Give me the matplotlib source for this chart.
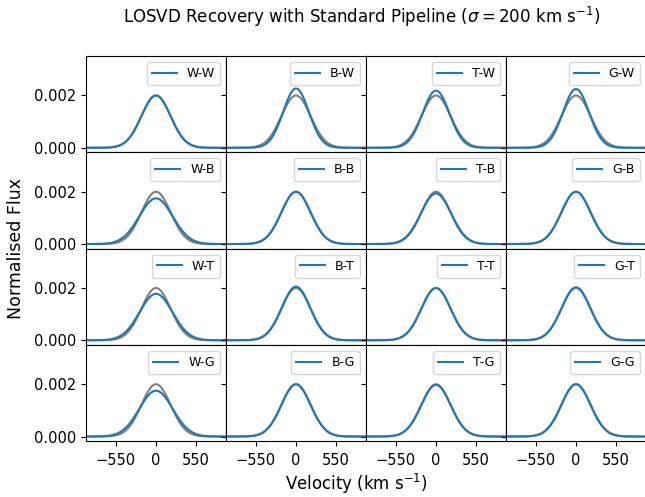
import numpy as np
import matplotlib.pyplot as plt

# input LOSVD width (km/s) and recovered widths for each template pairing
sigma_true = 200.0
rows = ["W", "B", "T", "G"]   # fitted galaxy template
cols = ["W", "B", "T", "G"]   # template library used in the fit
sigma_fit = [
    [200.0, 176.5, 183.0, 178.0],
    [229.0, 200.0, 207.0, 200.0],
    [225.0, 195.0, 200.0, 197.5],
    [228.0, 200.0, 202.5, 200.0],
]

vel = np.linspace(-960, 960, 400)


def losvd(v, sig):
    return np.exp(-0.5 * (v / sig) ** 2) / (np.sqrt(2 * np.pi) * sig)


fig, axes = plt.subplots(4, 4, sharex=True, sharey=True, figsize=(6.45, 4.97), dpi=100)
fig.subplots_adjust(left=86 / 645, right=646 / 645, top=1 - 56 / 497, bottom=1 - 441 / 497,
                    wspace=0, hspace=0)

for i, r in enumerate(rows):
    for j, c in enumerate(cols):
        ax = axes[i, j]
        ax.plot(vel, losvd(vel, sigma_true), color="grey")
        ax.plot(vel, losvd(vel, sigma_fit[i][j]), color="C0", label=f"{c}-{r}")
        ax.legend(loc="upper right", fontsize=9)

ax = axes[0, 0]
ax.set_xlim(-960, 960)
ax.set_ylim(-0.00017, 0.0035)
ax.set_xticks([-550, 0, 550])
ax.set_yticks([0.0, 0.002])
ax.yaxis.set_major_formatter(plt.FormatStrFormatter("%.3f"))
for a in axes.flat:
    a.tick_params(labelsize=10.5)
    a.tick_params(axis="x", pad=5)

fig.suptitle(r"LOSVD Recovery with Standard Pipeline ($\sigma = 200$ km s$^{-1}$)",
             fontsize=12, x=362 / 645, y=1 - 17 / 497, va="center")
fig.text(356 / 645, 1 - 484 / 497, r"Velocity (km s$^{-1}$)", ha="center", va="center", fontsize=12)
fig.text(16 / 645, 0.5, "Normalised Flux", ha="center", va="center", rotation=90, fontsize=12.5)

fig.savefig("out.png", dpi=100)
